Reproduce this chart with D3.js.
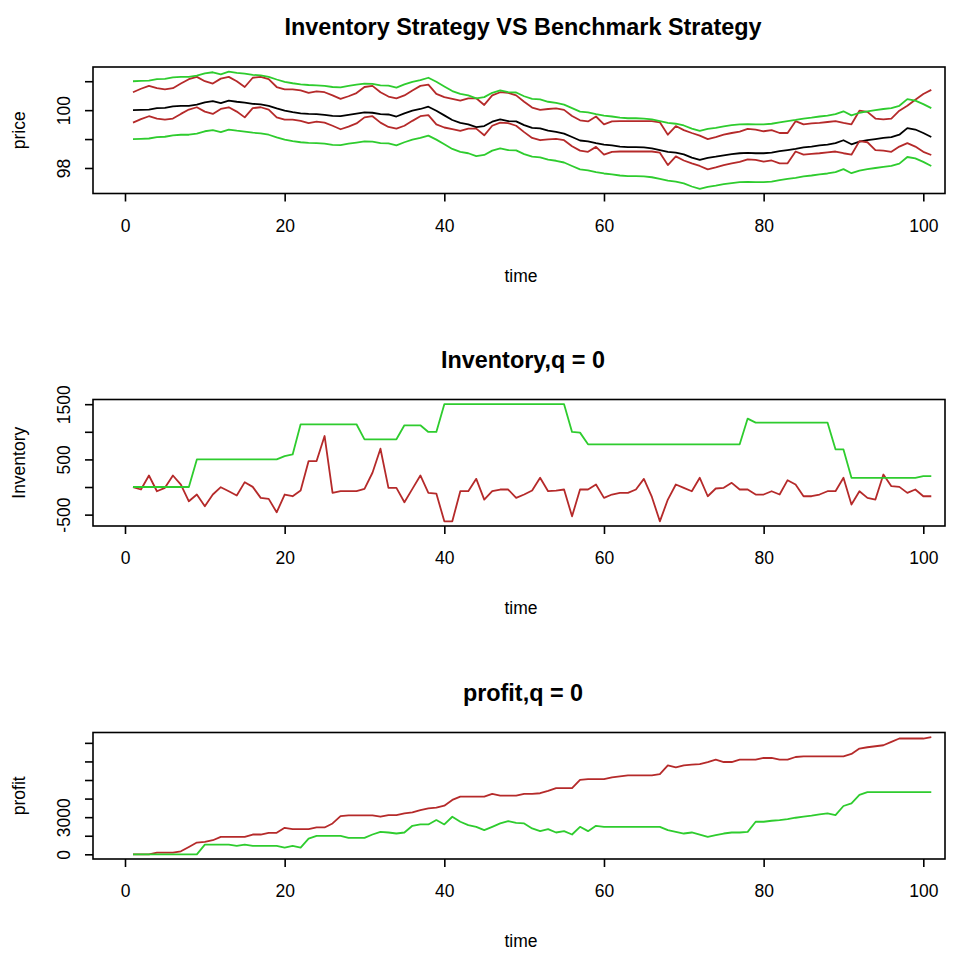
<!DOCTYPE html>
<html><head><meta charset="utf-8">
<script src="https://cdn.jsdelivr.net/npm/d3@7"></script>
<style>body{margin:0;background:#fff}svg{display:block}text{font-family:"Liberation Sans",Arial,sans-serif;fill:#000}</style>
</head><body><svg id="c" width="953" height="954"></svg>
<script>
// ---------- data ----------
const time = d3.range(1, 102);
const xTicks = [0, 20, 40, 60, 80, 100];

const midPrice = [100.00,100.01,100.02,100.07,100.08,100.13,100.15,100.15,100.19,100.27,
100.31,100.24,100.33,100.29,100.26,100.22,100.20,100.15,100.06,99.98,
99.93,99.89,99.87,99.86,99.84,99.80,99.79,99.84,99.88,99.92,
99.91,99.86,99.85,99.78,99.89,99.98,100.04,100.12,99.98,99.82,
99.66,99.56,99.51,99.41,99.45,99.60,99.68,99.62,99.61,99.48,
99.39,99.37,99.29,99.25,99.19,99.07,98.95,98.92,98.86,98.81,
98.78,98.74,98.72,98.72,98.71,98.68,98.62,98.56,98.53,98.47,
98.36,98.28,98.35,98.39,98.44,98.48,98.51,98.52,98.51,98.51,
98.53,98.58,98.62,98.66,98.71,98.74,98.78,98.81,98.86,98.96,
98.82,98.91,98.96,99.00,99.04,99.07,99.15,99.38,99.33,99.21,
99.07];

const invAsk = [100.62,100.74,100.84,100.76,100.72,100.76,100.92,101.07,101.15,101.00,
100.92,101.09,101.15,101.00,100.80,101.12,101.15,101.07,100.80,100.72,
100.72,100.68,100.60,100.65,100.62,100.51,100.39,100.48,100.59,100.80,
100.84,100.62,100.47,100.41,100.51,100.68,100.84,100.88,100.56,100.45,
100.39,100.33,100.41,100.41,100.18,100.51,100.62,100.60,100.51,100.29,
100.09,100.01,100.04,100.06,100.01,99.80,99.65,99.61,99.78,99.51,
99.61,99.62,99.62,99.62,99.62,99.62,99.58,99.15,99.45,99.31,
99.21,99.12,99.00,99.07,99.15,99.21,99.26,99.35,99.33,99.27,
99.31,99.21,99.21,99.62,99.51,99.54,99.56,99.59,99.62,99.56,
99.51,99.98,99.94,99.71,99.68,99.71,99.98,100.15,100.36,100.56,
100.70];

const invBid = [99.57,99.69,99.79,99.71,99.67,99.71,99.87,100.02,100.10,99.95,
99.87,100.04,100.10,99.95,99.75,100.07,100.10,100.02,99.75,99.67,
99.67,99.63,99.55,99.60,99.57,99.46,99.34,99.43,99.54,99.75,
99.79,99.57,99.42,99.36,99.46,99.63,99.79,99.83,99.51,99.40,
99.34,99.28,99.36,99.36,99.13,99.46,99.57,99.55,99.46,99.24,
99.04,98.96,98.99,99.01,98.96,98.75,98.60,98.56,98.73,98.46,
98.56,98.57,98.57,98.57,98.57,98.57,98.53,98.10,98.40,98.26,
98.16,98.07,97.95,98.02,98.10,98.16,98.21,98.30,98.28,98.22,
98.26,98.16,98.16,98.57,98.46,98.49,98.51,98.54,98.57,98.51,
98.46,98.93,98.89,98.62,98.60,98.56,98.74,98.86,98.74,98.56,
98.45];

const benchAsk = [101.00,101.01,101.02,101.07,101.08,101.13,101.15,101.15,101.19,101.27,
101.31,101.24,101.33,101.29,101.26,101.22,101.20,101.15,101.06,100.98,
100.93,100.89,100.87,100.86,100.84,100.80,100.79,100.84,100.88,100.92,
100.91,100.86,100.85,100.78,100.89,100.98,101.04,101.12,100.98,100.82,
100.66,100.56,100.51,100.41,100.45,100.60,100.68,100.62,100.61,100.48,
100.39,100.37,100.29,100.25,100.19,100.07,99.95,99.92,99.86,99.81,
99.78,99.74,99.72,99.72,99.71,99.68,99.62,99.56,99.53,99.47,
99.36,99.28,99.35,99.39,99.44,99.48,99.51,99.52,99.51,99.51,
99.53,99.58,99.62,99.66,99.71,99.74,99.78,99.81,99.86,99.96,
99.82,99.91,99.96,100.00,100.04,100.07,100.15,100.38,100.33,100.21,
100.07];

const benchBid = [99.00,99.01,99.02,99.07,99.08,99.13,99.15,99.15,99.19,99.27,
99.31,99.24,99.33,99.29,99.26,99.22,99.20,99.15,99.06,98.98,
98.93,98.89,98.87,98.86,98.84,98.80,98.79,98.84,98.88,98.92,
98.91,98.86,98.85,98.78,98.89,98.98,99.04,99.12,98.98,98.82,
98.66,98.56,98.51,98.41,98.45,98.60,98.68,98.62,98.61,98.48,
98.39,98.37,98.29,98.25,98.19,98.07,97.95,97.92,97.86,97.81,
97.78,97.74,97.72,97.72,97.71,97.68,97.62,97.56,97.53,97.47,
97.36,97.28,97.35,97.39,97.44,97.48,97.51,97.52,97.51,97.51,
97.53,97.58,97.62,97.66,97.71,97.74,97.78,97.81,97.86,97.96,
97.82,97.91,97.96,98.00,98.04,98.07,98.15,98.38,98.33,98.21,
98.07];

const invInventory = [0,-45,209,-76,-15,209,45,-258,-136,-348,
-136,-3,-76,-155,88,3,-197,-215,-458,-136,
-167,-64,470,470,924,-106,-76,-76,-76,-33,
258,694,-15,-15,-276,-33,209,-106,-118,-621,
-621,-76,-76,148,-227,-76,-45,-45,-197,-136,
-64,167,-76,-64,-45,-530,-45,-45,45,-197,
-136,-106,-106,-45,148,-179,-621,-227,45,-15,
-76,167,-167,-27,-15,76,-45,-45,-136,-136,
-76,-136,124,45,-167,-167,-136,-76,-76,167,
-318,-76,-197,-227,227,15,3,-106,-45,-167,
-167];

const benchInventory = [0,0,0,0,0,0,0,0,500,500,
500,500,500,500,500,500,500,500,500,560,
590,1136,1136,1136,1136,1136,1136,1136,1136,864,
864,864,864,864,1118,1118,1118,997,997,1500,
1500,1500,1500,1500,1500,1500,1500,1500,1500,1500,
1500,1500,1500,1500,1500,997,985,773,773,773,
773,773,773,773,773,773,773,773,773,773,
773,773,773,773,773,773,773,1239,1167,1167,
1167,1167,1167,1167,1167,1167,1167,1167,682,680,
167,167,167,167,167,167,167,167,167,197,
197];

const invProfit = [0,0,0,135,135,135,244,596,948,1003,
1138,1409,1409,1409,1409,1599,1599,1734,1734,2141,
2033,2033,2033,2168,2168,2493,3089,3144,3144,3144,
3144,3035,3171,3171,3306,3388,3577,3713,3767,3930,
4390,4661,4661,4661,4661,4878,4743,4743,4743,4878,
4878,4932,5122,5339,5339,5339,6016,6070,6070,6070,
6206,6287,6369,6369,6369,6369,6477,7182,7019,7182,
7236,7290,7453,7642,7453,7453,7642,7642,7642,7778,
7778,7642,7642,7859,7913,7913,7913,7913,7913,7913,
8103,8537,8645,8726,8808,9079,9350,9350,9350,9350,
9458];

const benchProfit = [0,0,0,0,0,0,0,0,0,786,
786,786,786,678,786,678,678,678,678,542,
678,542,1274,1491,1491,1491,1491,1328,1328,1328,
1599,1816,1762,1680,1762,2304,2412,2412,2764,2412,
3035,2629,2358,2222,1951,2222,2493,2683,2547,2493,
2087,1870,2033,1762,1870,1599,2222,1870,2304,2222,
2222,2222,2222,2222,2222,2222,2222,1951,1816,1680,
1762,1599,1409,1545,1680,1762,1762,1816,2629,2629,
2710,2764,2846,2954,3035,3117,3225,3306,3171,3902,
4119,4797,5014,5014,5014,5014,5014,5014,5014,5014,
5014];

const priceTicks = [98, 99, 100, 101];
const priceLabels = [98, 100];
const invTicks = [-500, 0, 500, 1000, 1500];
const invLabels = [-500, 500, 1500];
const profitTicks = [0, 1500, 3000, 4500, 6000, 7500, 9000];
const profitLabels = [0, 3000];

const titles = ["Inventory Strategy VS Benchmark Strategy", "Inventory,q = 0", "profit,q = 0"];
const yTitles = ["price", "Inventory", "profit"];
const xTitle = "time";

const RED = "#b52a2a", GREEN = "#2ecc2e", BLACK = "#000";

// ---------- drawing ----------
const svg = d3.select("#c");
const L = 93, R = 945, boxH = 126.5;
const x = d3.scaleLinear().domain([0, 100]).range([125, 923.3]);

function rdomain(arrs) {
  const lo = d3.min(arrs, a => d3.min(a)), hi = d3.max(arrs, a => d3.max(a));
  const p = (hi - lo) * 0.04;
  return [lo - p, hi + p];
}

const panels = [
  {top: 67, series: [[midPrice, BLACK], [invAsk, RED], [invBid, RED], [benchAsk, GREEN], [benchBid, GREEN]], ticks: priceTicks, labels: priceLabels},
  {top: 399.5, series: [[invInventory, RED], [benchInventory, GREEN]], ticks: invTicks, labels: invLabels},
  {top: 732.5, series: [[invProfit, RED], [benchProfit, GREEN]], ticks: profitTicks, labels: profitLabels}
];

panels.forEach((p, i) => {
  const bottom = p.top + boxH;
  const y = d3.scaleLinear().domain(rdomain(p.series.map(s => s[0]))).range([bottom, p.top]);
  const g = svg.append("g");

  // title
  g.append("text").attr("x", 523).attr("y", p.top - 32)
    .attr("text-anchor", "middle").attr("font-size", 23.4).attr("font-weight", "bold")
    .text(titles[i]);

  // lines
  p.series.forEach(([vals, col]) => {
    const line = d3.line().x((d, k) => x(time[k])).y(d => y(d));
    g.append("path").datum(vals).attr("d", line).attr("fill", "none")
      .attr("stroke", col).attr("stroke-width", 1.8).attr("stroke-linejoin", "round");
  });

  // box
  g.append("rect").attr("x", L).attr("y", p.top).attr("width", R - L).attr("height", boxH)
    .attr("fill", "none").attr("stroke", "#000").attr("stroke-width", 1.6);

  // x axis
  const xa = g.append("g").attr("transform", `translate(0,${bottom})`)
    .call(d3.axisBottom(x).tickValues(xTicks).tickSize(8).tickPadding(18).tickFormat(d3.format("d")));
  xa.select(".domain").remove();
  xa.selectAll("line").attr("stroke", "#000").attr("stroke-width", 1.6);
  xa.selectAll("text").attr("font-size", 17.5).attr("font-family", null);

  // y axis
  const ya = g.append("g").attr("transform", `translate(${L},0)`)
    .call(d3.axisLeft(y).tickValues(p.ticks).tickSize(8).tickFormat(d => p.labels.includes(d) ? d : ""));
  ya.select(".domain").remove();
  ya.selectAll("line").attr("stroke", "#000").attr("stroke-width", 1.6);
  ya.selectAll(".tick text").attr("font-size", 17.5).attr("font-family", null)
    .attr("x", null).attr("dy", null)
    .attr("text-anchor", "middle")
    .attr("transform", "translate(-29,0) rotate(-90)")
    .attr("dy", "0.35em");

  // axis titles
  g.append("text").attr("x", 521).attr("y", bottom + 88).attr("text-anchor", "middle")
    .attr("font-size", 17.5).text(xTitle);
  g.append("text").attr("transform", `translate(19,${p.top + boxH / 2}) rotate(-90)`)
    .attr("text-anchor", "middle").attr("dy", "0.35em").attr("font-size", 17.5).text(yTitles[i]);
});
</script></body></html>
